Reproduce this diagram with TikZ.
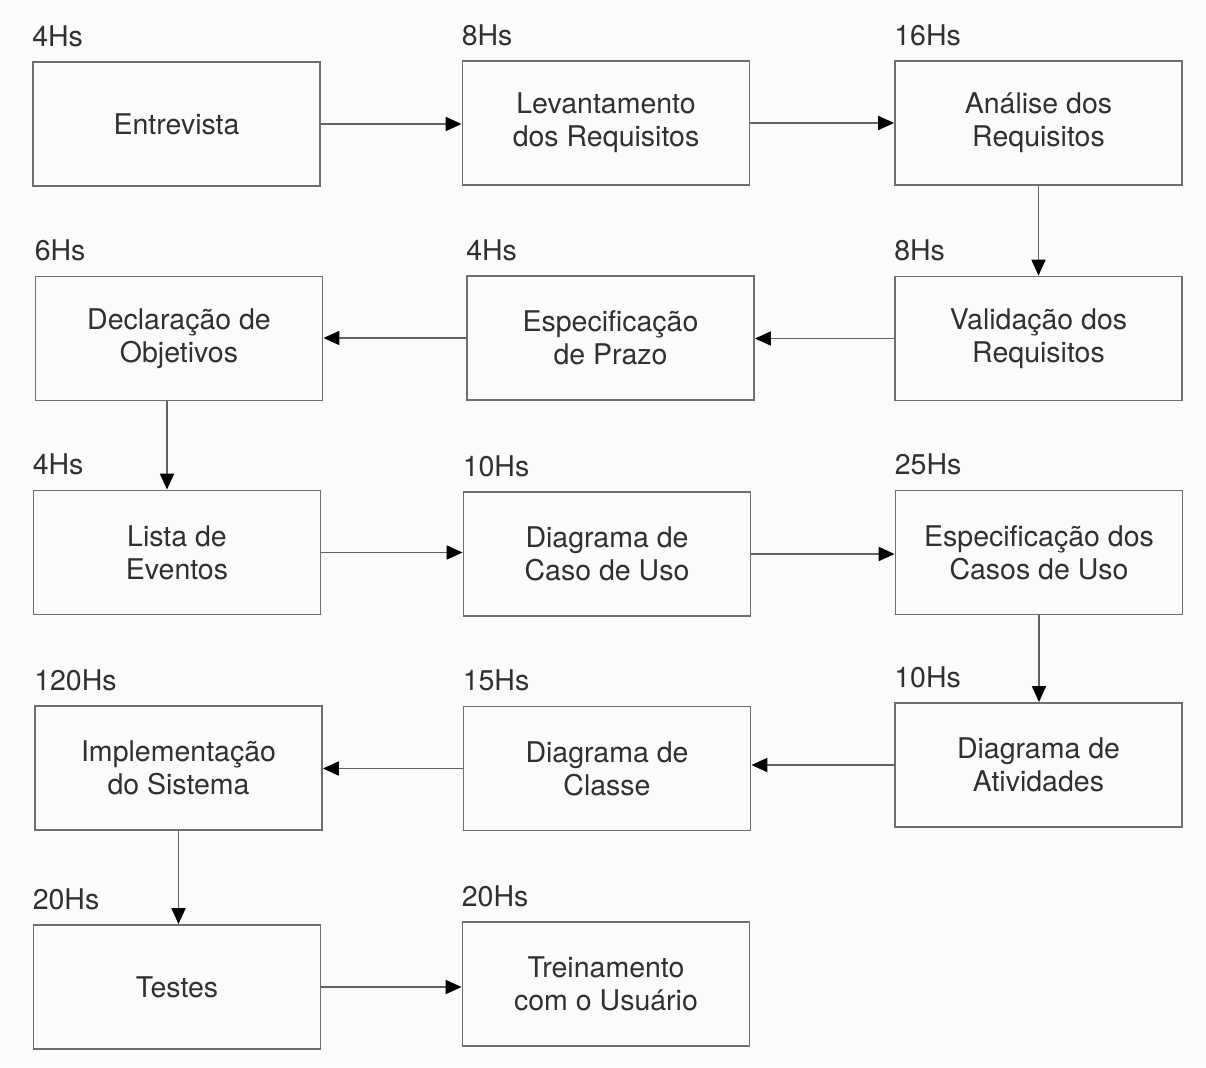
\documentclass[tikz,border=0pt]{standalone}
\usepackage{fontspec}
\setmainfont{TeX Gyre Heros}
\usetikzlibrary{arrows.meta}
\definecolor{paper}{HTML}{FBFBFB}
\definecolor{ink}{HTML}{303030}
\definecolor{frame}{HTML}{6E6E6E}
\definecolor{wire}{HTML}{626262}
\begin{document}
\begin{tikzpicture}[x=1pt,y=-1pt,
  stepbox/.style={draw=frame,line width=1.8pt,minimum width=287pt,minimum height=124pt,
    inner sep=0pt,align=center,text=ink,font=\fontsize{28.5}{33}\selectfont},
  hours/.style={anchor=base west,inner sep=0pt,text=ink,font=\fontsize{28.5}{33}\selectfont},
  flow/.style={draw=wire,line width=1.8pt,
    -{Triangle[length=16pt,width=14pt,color=black,fill=black]}}]
\fill[paper] (0,0) rectangle (1206,1067);
\useasboundingbox (0,0) rectangle (1206,1067);

% row 1
\node[stepbox] (entrev) at (176.5,124) {Entrevista};
\node[stepbox] (levant) at (606,123) {Levantamento\\dos Requisitos};
\node[stepbox] (analise) at (1038.5,123) {Análise dos\\Requisitos};
% row 2
\node[stepbox] (declar) at (179,338.5) {Declaração de\\Objetivos};
\node[stepbox] (prazo) at (610.5,338) {Especificação\\de Prazo};
\node[stepbox] (valid) at (1038.5,338.5) {Validação dos\\Requisitos};
% row 3
\node[stepbox] (lista) at (177,552.5) {Lista de\\Eventos};
\node[stepbox] (dcaso) at (607,554) {Diagrama de\\Caso de Uso};
\node[stepbox] (ecaso) at (1039,552.5) {Especificação dos\\Casos de Uso};
% row 4
\node[stepbox] (implem) at (178.5,768) {Implementação\\do Sistema};
\node[stepbox] (classe) at (607,768.5) {Diagrama de\\Classe};
\node[stepbox] (ativ) at (1038.5,765) {Diagrama de\\Atividades};
% row 5
\node[stepbox] (testes) at (177,987) {Testes};
\node[stepbox] (trein) at (606,984) {Treinamento\\com o Usuário};

% hour estimates above each box
\node[hours] (h1) at ([yshift=15pt]entrev.north west) {4Hs};
\node[hours] (h2) at ([yshift=15pt]levant.north west) {8Hs};
\node[hours] (h3) at ([yshift=15pt]analise.north west) {16Hs};
\node[hours] (h4) at ([yshift=15pt]declar.north west) {6Hs};
\node[hours] (h5) at ([yshift=15pt]prazo.north west) {4Hs};
\node[hours] (h6) at ([yshift=15pt]valid.north west) {8Hs};
\node[hours] (h7) at ([yshift=15pt]lista.north west) {4Hs};
\node[hours] (h8) at ([yshift=15pt]dcaso.north west) {10Hs};
\node[hours] (h9) at ([yshift=15pt]ecaso.north west) {25Hs};
\node[hours] (h10) at ([yshift=15pt]implem.north west) {120Hs};
\node[hours] (h11) at ([yshift=15pt]classe.north west) {15Hs};
\node[hours] (h12) at ([yshift=15pt]ativ.north west) {10Hs};
\node[hours] (h13) at ([yshift=15pt]testes.north west) {20Hs};
\node[hours] (h14) at ([yshift=15pt]trein.north west) {20Hs};

% connectors
\draw[flow] (entrev.east) -- (entrev.east -| levant.west);
\draw[flow] (levant.east) -- (levant.east -| analise.west);
\draw[flow] (analise.south) -- (analise.south |- valid.north);
\draw[flow] (valid.west) -- (valid.west -| prazo.east);
\draw[flow] (prazo.west) -- (prazo.west -| declar.east);
\draw[flow] ([xshift=-12pt]declar.south) -- ([xshift=-12pt]declar.south |- lista.north);
\draw[flow] (lista.east) -- (lista.east -| dcaso.west);
\draw[flow] (dcaso.east) -- (dcaso.east -| ecaso.west);
\draw[flow] (ecaso.south) -- (ecaso.south |- ativ.north);
\draw[flow] (ativ.west) -- (ativ.west -| classe.east);
\draw[flow] (classe.west) -- (classe.west -| implem.east);
\draw[flow] (implem.south) -- (implem.south |- testes.north);
\draw[flow] (testes.east) -- (testes.east -| trein.west);
\end{tikzpicture}
\end{document}
